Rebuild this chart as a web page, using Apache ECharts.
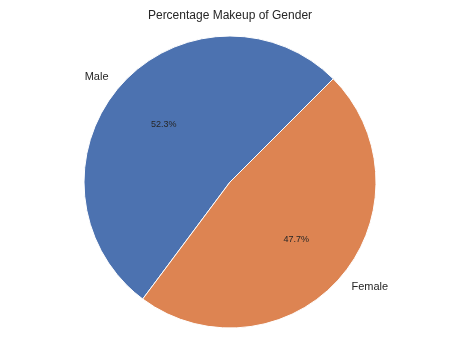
<!DOCTYPE html>
<html><head><meta charset="utf-8">
<script src="https://cdn.jsdelivr.net/npm/echarts@6/dist/echarts.min.js"></script>
<style>html,body{margin:0;padding:0;background:#fff}#c{width:460px;height:354px}</style>
</head><body><div id="c"></div>
<script>
const categories = ['Male', 'Female'];
const percentages = [52.3, 47.7];
const colors = ['#4c72b0', '#dd8452'];
const titleText = 'Percentage Makeup of Gender';

const R = 146;
const center = [230, 182];
const font = '"Liberation Sans", Arial, sans-serif';
const data = categories.map((c, i) => ({ name: c, value: percentages[i], itemStyle: { color: colors[i] } }));

const chart = echarts.init(document.getElementById('c'), null, { renderer: 'canvas' });
chart.setOption({
  animation: false,
  backgroundColor: '#ffffff',
  title: { text: titleText, left: 'center', top: 5, textStyle: { fontFamily: font, fontSize: 12, fontWeight: 'normal', color: '#262626' } },
  series: [
    {
      type: 'pie', center: center, radius: R, startAngle: 45, clockwise: false,
      avoidLabelOverlap: false, silent: true,
      itemStyle: { borderColor: '#ffffff', borderWidth: 1 },
      label: { show: true, position: 'outside', formatter: '{b}', fontFamily: font, fontSize: 11, color: '#262626', distanceToLabelLine: 0, padding: [4, 0, 0, 0] },
      labelLine: { show: false, length: R * 0.1, length2: 0 },
      data: data
    },
    {
      type: 'pie', center: center, radius: [R * 0.16, R], startAngle: 45, clockwise: false,
      avoidLabelOverlap: false, silent: true,
      itemStyle: { color: 'rgba(0,0,0,0)', borderWidth: 0 },
      label: { show: true, position: 'inner', formatter: p => p.value.toFixed(1) + '%', fontFamily: font, fontSize: 9, color: '#262626', padding: [1, 0, 0, 0] },
      labelLine: { show: false },
      data: categories.map((c, i) => ({ name: c, value: percentages[i] }))
    }
  ]
});
</script></body></html>
